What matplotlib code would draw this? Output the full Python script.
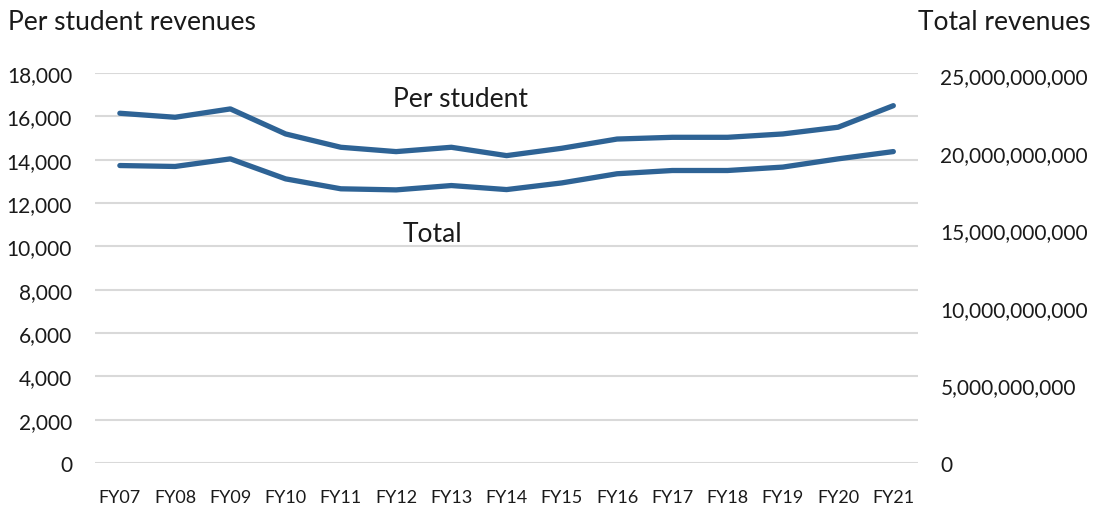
import matplotlib
matplotlib.use('Agg')
import matplotlib.pyplot as plt
from matplotlib.ticker import FuncFormatter

# data
years = ['FY07', 'FY08', 'FY09', 'FY10', 'FY11', 'FY12', 'FY13', 'FY14',
         'FY15', 'FY16', 'FY17', 'FY18', 'FY19', 'FY20', 'FY21']
per_student = [16140, 15955, 16340, 15185, 14570, 14370, 14570, 14185,
               14525, 14950, 15030, 15030, 15185, 15495, 16490]
total = [19.18e9, 19.12e9, 19.61e9, 18.32e9, 17.68e9, 17.61e9, 17.89e9, 17.63e9,
         18.06e9, 18.65e9, 18.86e9, 18.86e9, 19.08e9, 19.61e9, 20.08e9]

left_ticks = list(range(0, 18001, 2000))
right_ticks = [0, 5e9, 10e9, 15e9, 20e9, 25e9]

line_color = '#2E6395'
grid_color = '#D9D9D9'
text_color = '#1a1a1a'

plt.rcParams['font.family'] = ['Lato', 'DejaVu Sans']

fig = plt.figure(figsize=(10.97, 5.10), dpi=100)
ax = fig.add_axes([0.0866, 0.0902, 0.7504, 0.7648])
ax2 = ax.twinx()

x = list(range(len(years)))
ax.plot(x, per_student, color=line_color, lw=3.8, solid_capstyle='round', solid_joinstyle='round')
ax2.plot(x, total, color=line_color, lw=3.8, solid_capstyle='round', solid_joinstyle='round')

ax.set_xlim(-0.45, len(years) - 0.55)
ax.set_ylim(0, 18000)
ax2.set_ylim(0, 25.15e9)
ax.set_yticks(left_ticks)
ax2.set_yticks(right_ticks)
ax.yaxis.set_major_formatter(FuncFormatter(lambda v, p: '{:,.0f}'.format(v)))
ax2.yaxis.set_major_formatter(FuncFormatter(lambda v, p: '{:,.0f}'.format(v)))
ax.set_xticks(x)
ax.set_xticklabels(years)

for a in (ax, ax2):
    for s in a.spines.values():
        s.set_visible(False)
    a.tick_params(length=0, labelsize=15, colors=text_color)
ax.tick_params(axis='y', pad=16.5)
ax2.tick_params(axis='y', pad=16)
ax.tick_params(axis='x', pad=19, labelsize=13)

ax.grid(axis='y', color=grid_color, lw=1.5)
ax.set_axisbelow(True)

fig.text(0.007, 0.955, 'Per student revenues', fontsize=19, color=text_color, va='center')
fig.text(0.994, 0.955, 'Total revenues', fontsize=19, color=text_color, va='center', ha='right')
ax.text(6.17, 16800, 'Per student', fontsize=19, color=text_color, ha='center', va='center')
ax.text(5.65, 10600, 'Total', fontsize=19, color=text_color, ha='center', va='center')

fig.savefig('out.png', dpi=100)
